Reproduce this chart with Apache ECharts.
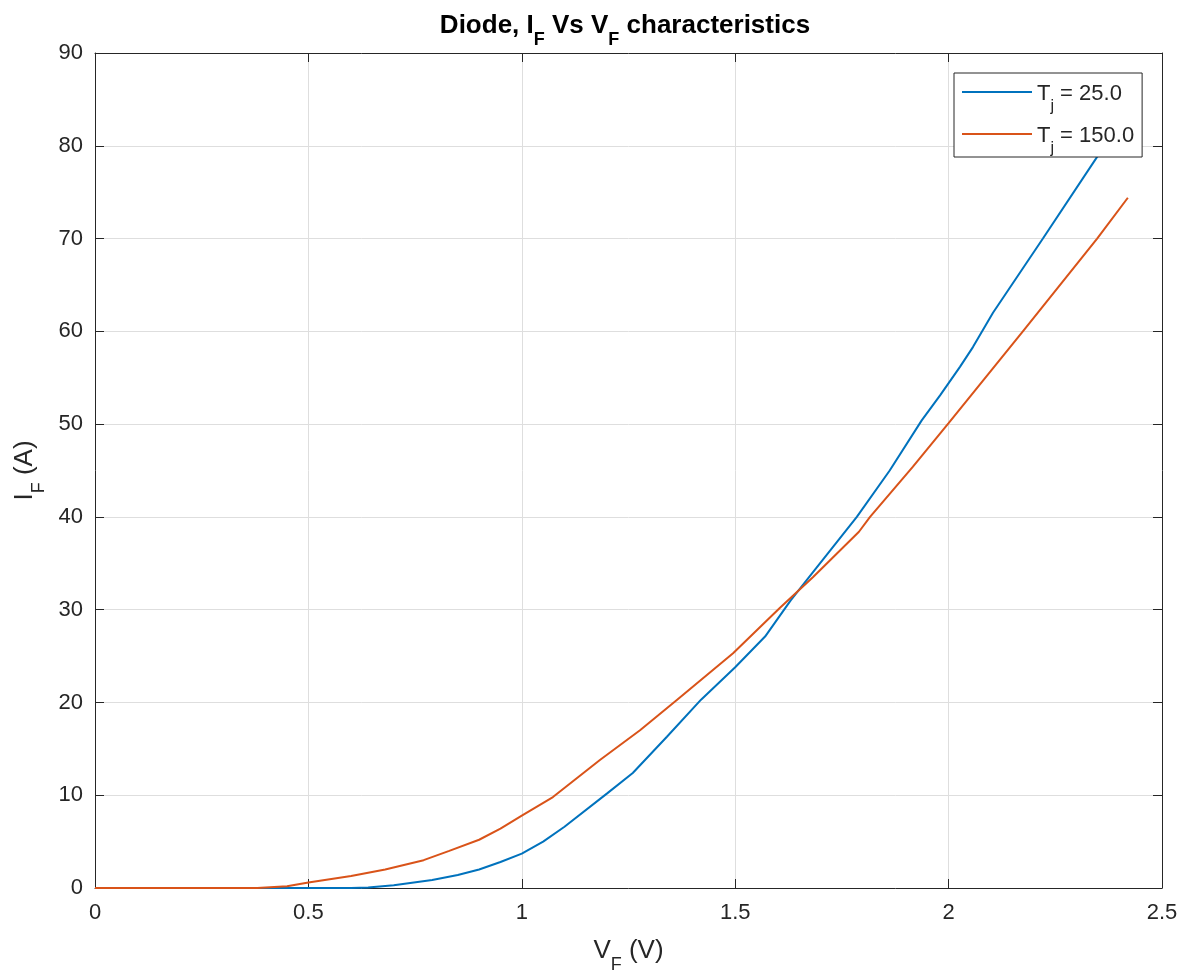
<!DOCTYPE html>
<html>
<head>
<meta charset="utf-8">
<script src="https://cdn.jsdelivr.net/npm/echarts@6/dist/echarts.min.js"></script>
<style>
html,body{margin:0;padding:0;background:#fff;}
#chart{width:1186px;height:975px;}
</style>
</head>
<body>
<div id="chart"></div>
<script>
// Data
const vf25 = [0, 0.3, 0.6, 0.64, 0.7, 0.79, 0.85, 0.9, 0.95, 1.0, 1.05, 1.1, 1.2, 1.26, 1.34, 1.42, 1.5, 1.57, 1.63, 1.68, 1.785, 1.862, 1.937, 1.98, 2.027, 2.057, 2.104, 2.221, 2.348, 2.42];
const if25 = [0, 0, 0, 0.05, 0.3, 0.86, 1.4, 2.0, 2.8, 3.7, 5.0, 6.6, 10.2, 12.4, 16.3, 20.3, 23.8, 27.1, 31.0, 33.9, 40.0, 45.0, 50.4, 53.1, 56.2, 58.3, 62.0, 70.0, 78.8, 84.0];
const vf150 = [0, 0.38, 0.45, 0.5, 0.6, 0.68, 0.77, 0.83, 0.9, 0.95, 1.0, 1.073, 1.183, 1.277, 1.364, 1.495, 1.605, 1.682, 1.79, 1.816, 1.916, 2.0, 2.174, 2.348, 2.42];
const if150 = [0, 0, 0.2, 0.6, 1.3, 2.0, 3.0, 4.0, 5.2, 6.4, 7.8, 9.8, 13.8, 17.0, 20.3, 25.3, 30.2, 33.5, 38.4, 40.0, 45.4, 50.1, 60.0, 70.0, 74.4];
const seriesNames = ['{t|T}{s|j}{t| = 25.0}', '{t|T}{s|j}{t| = 150.0}'];
const xTicks = {min: 0, max: 2.5, interval: 0.5};
const yTicks = {min: 0, max: 90, interval: 10};

const toPairs = (xs, ys) => xs.map((x, i) => [x, ys[i]]);
const axisColor = '#262626';
const gridColor = '#dedede';
const font = 'Liberation Sans, Arial, Helvetica, sans-serif';

const chart = echarts.init(document.getElementById('chart'));
const baseAxis = {
  type: 'value',
  axisLine: {show: true, onZero: false, lineStyle: {color: axisColor, width: 1}},
  axisTick: {show: true, inside: true, length: 9, lineStyle: {color: axisColor}},
  splitLine: {show: true, lineStyle: {color: gridColor, width: 1}},
  axisLabel: {color: axisColor, fontSize: 22, fontFamily: font}
};
const nameRich = {
  t: {fontSize: 26, color: axisColor, fontFamily: font, lineHeight: 32, verticalAlign: 'bottom'},
  s: {fontSize: 18, color: axisColor, fontFamily: font, lineHeight: 18, padding: [0, 0, -10, 0], verticalAlign: 'bottom'}
};
chart.setOption({
  animation: false,
  backgroundColor: '#fff',
  title: {
    text: '{b|Diode, I}{s|F}{b| Vs V}{s|F}{b| characteristics}',
    left: 620, top: 4, textAlign: 'center',
    textStyle: {
      rich: {
        b: {fontSize: 26, fontWeight: 'bold', color: '#000', fontFamily: font, lineHeight: 30, verticalAlign: 'bottom'},
        s: {fontSize: 18, fontWeight: 'bold', color: '#000', fontFamily: font, lineHeight: 18, padding: [0, 0, -10, 0], verticalAlign: 'bottom'}
      }
    }
  },
  grid: {left: 95, right: 24, top: 53, bottom: 87, containLabel: false, outerBoundsMode: 'none'},
  legend: {
    orient: 'vertical', left: 954, top: 73,
    backgroundColor: '#fff', borderColor: axisColor, borderWidth: 1, borderRadius: 0,
    padding: [10, 8, 0, 8], itemGap: 10, itemWidth: 70, itemHeight: 2, icon: 'rect',
    textStyle: {
      rich: {
        t: {fontSize: 22, color: axisColor, fontFamily: font, lineHeight: 26, verticalAlign: 'bottom'},
        s: {fontSize: 16, color: axisColor, fontFamily: font, lineHeight: 16, padding: [0, 0, -10, 0], verticalAlign: 'bottom'}
      }
    },
    data: seriesNames
  },
  xAxis: [
    Object.assign({}, baseAxis, {
      min: xTicks.min, max: xTicks.max, interval: xTicks.interval, position: 'bottom',
      name: '{t|V}{s|F}{t| (V)}', nameLocation: 'middle', nameGap: 44,
      nameTextStyle: {rich: nameRich},
      axisLabel: {color: axisColor, fontSize: 22, fontFamily: font, margin: 14}
    }),
    Object.assign({}, baseAxis, {
      min: xTicks.min, max: xTicks.max, interval: xTicks.interval, position: 'top',
      splitLine: {show: false}, axisLabel: {show: false}
    })
  ],
  yAxis: [
    Object.assign({}, baseAxis, {
      min: yTicks.min, max: yTicks.max, interval: yTicks.interval, position: 'left',
      name: '{t|I}{s|F}{t| (A)}', nameLocation: 'middle', nameGap: 50, nameRotate: 90,
      nameTextStyle: {rich: nameRich},
      axisLabel: {color: axisColor, fontSize: 22, fontFamily: font, margin: 12}
    }),
    Object.assign({}, baseAxis, {
      min: yTicks.min, max: yTicks.max, interval: yTicks.interval, position: 'right',
      splitLine: {show: false}, axisLabel: {show: false}
    })
  ],
  series: [
    {name: seriesNames[0], type: 'line', data: toPairs(vf25, if25), symbol: 'none', smooth: false,
     lineStyle: {color: '#0072BD', width: 2}, itemStyle: {color: '#0072BD'}, z: 3},
    {name: seriesNames[1], type: 'line', data: toPairs(vf150, if150), symbol: 'none', smooth: false,
     lineStyle: {color: '#D95319', width: 2}, itemStyle: {color: '#D95319'}, z: 3}
  ]
});
</script>
</body>
</html>
